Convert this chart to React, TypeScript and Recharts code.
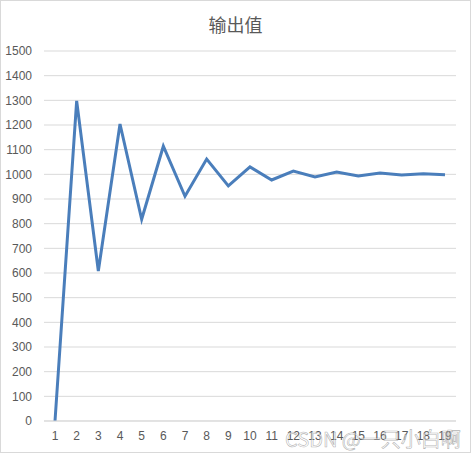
import React from "react";
import { LineChart, Line, XAxis, YAxis, CartesianGrid } from "recharts";

const steps = ["1", "2", "3", "4", "5", "6", "7", "8", "9", "10", "11", "12", "13", "14", "15", "16", "17", "18", "19"];
const outputs = [0, 1298, 608, 1204, 818, 1114, 911, 1062, 953, 1030, 977, 1013, 989, 1009, 993, 1005, 997, 1002, 998];
const yTicks = [0, 100, 200, 300, 400, 500, 600, 700, 800, 900, 1000, 1100, 1200, 1300, 1400, 1500];

const data = steps.map((s, i) => ({ step: s, value: outputs[i] }));

const tickStyle = { fill: "#595959", fontSize: 12, fontFamily: "Liberation Sans, Arial, sans-serif" };

const App = () => {
  return (
    <div
      style={{
        position: "absolute",
        left: 0,
        top: 0,
        width: 469,
        height: 451,
        border: "1px solid #d9d9d9",
        background: "#fff",
      }}
    >
      <div
        style={{
          position: "absolute",
          top: 10,
          left: 0,
          width: "100%",
          textAlign: "center",
          fontSize: 18,
          color: "#595959",
          fontFamily: "Noto Sans CJK SC, sans-serif",
        }}
      >
        输出值
      </div>
      <LineChart width={469} height={451} data={data} margin={{ top: 50, right: 14, bottom: 0, left: 0 }}>
        <CartesianGrid vertical={false} stroke="#d9d9d9" />
        <XAxis
          dataKey="step"
          tick={tickStyle}
          tickLine={false}
          axisLine={{ stroke: "#d9d9d9" }}
          interval={0}
          height={31}
          tickMargin={4}
          padding={{ left: 11, right: 11 }}
        />
        <YAxis
          domain={[0, 1500]}
          ticks={yTicks}
          tick={tickStyle}
          tickLine={false}
          axisLine={false}
          width={43}
          tickMargin={6}
          interval={0}
        />
        <Line
          type="linear"
          dataKey="value"
          stroke="#4a7ebb"
          strokeWidth={3}
          dot={false}
          isAnimationActive={false}
        />
      </LineChart>
      <div
        style={{
          position: "absolute",
          left: 284,
          top: 423,
          fontSize: 20,
          color: "rgba(255,255,255,0.5)",
          WebkitTextStroke: "0.6px rgba(110,110,110,0.55)",
          fontFamily: "Noto Sans CJK SC, sans-serif",
          whiteSpace: "nowrap",
        }}
      >
        CSDN @一只小白啊
      </div>
    </div>
  );
};

export default App;
